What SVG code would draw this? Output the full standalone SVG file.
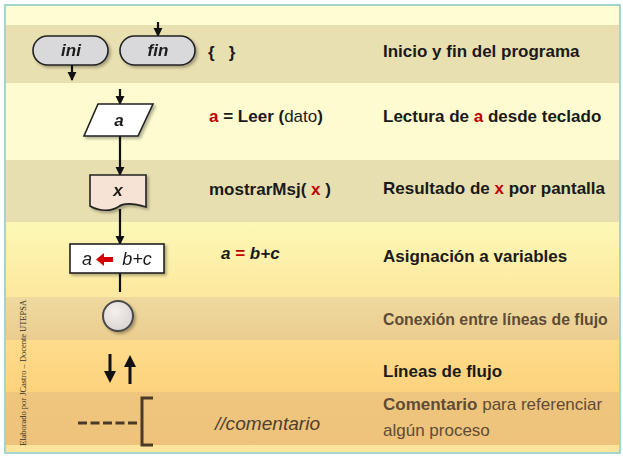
<svg xmlns="http://www.w3.org/2000/svg" width="623" height="457" viewBox="0 0 623 457">
<defs>
<style>
.t{font-family:"Liberation Sans",Arial,sans-serif;font-size:17px;font-weight:bold;fill:#1a1a1a}
.r{fill:#c00000}
.reg{font-weight:normal}
.sym{font-family:"Liberation Sans",Arial,sans-serif;font-size:17px;font-weight:bold;font-style:italic;fill:#1a1a1a;text-anchor:middle}
.ln{stroke:#111;stroke-width:2.2;fill:none}
.shape{stroke:#222;stroke-width:1.6}
.muted{fill:#5e4c36}
.head{fill:#111}
</style>
<marker id="ah" viewBox="0 0 10 10" refX="9" refY="5" markerWidth="4.2" markerHeight="4.2" orient="auto" markerUnits="strokeWidth">
<path d="M0,0 L10,5 L0,10 z" fill="#111"/>
</marker>
<filter id="sh" x="-20%" y="-20%" width="150%" height="160%">
<feDropShadow dx="2" dy="2" stdDeviation="1.5" flood-color="#000" flood-opacity="0.3"/>
</filter>
<linearGradient id="g4" x1="0" y1="0" x2="0" y2="1"><stop offset="0" stop-color="#fdf8b6"/><stop offset="1" stop-color="#fde89e"/></linearGradient>
<linearGradient id="g5" x1="0" y1="0" x2="0" y2="1"><stop offset="0" stop-color="#eed99f"/><stop offset="1" stop-color="#eccd8f"/></linearGradient>
<linearGradient id="g6" x1="0" y1="0" x2="0" y2="1"><stop offset="0" stop-color="#fedc8c"/><stop offset="1" stop-color="#fdd27c"/></linearGradient>
<linearGradient id="g7" x1="0" y1="0" x2="0" y2="1"><stop offset="0" stop-color="#efc67f"/><stop offset="1" stop-color="#eec27b"/></linearGradient>
<radialGradient id="gc" cx="0.4" cy="0.35" r="0.7"><stop offset="0" stop-color="#f4f0ee"/><stop offset="1" stop-color="#d9d2d0"/></radialGradient>
</defs>

<rect x="0" y="0" width="623" height="457" fill="#ffffff"/>
<g id="background">
<rect x="5" y="5" width="615" height="448" fill="#fdfcd3"/>
<rect x="5" y="25" width="615" height="58" fill="#e9e0b1"/>
<rect x="5" y="83" width="615" height="77" fill="#fdfbcf"/>
<rect x="5" y="160" width="615" height="62" fill="#e8dfb1"/>
<rect x="5" y="222" width="615" height="75" fill="url(#g4)"/>
<rect x="5" y="297" width="615" height="43" fill="url(#g5)"/>
<rect x="5" y="340" width="615" height="52" fill="url(#g6)"/>
<rect x="5" y="392" width="615" height="53" fill="url(#g7)"/>
<rect x="5" y="445" width="615" height="8" fill="#fde49c"/>
<rect x="5" y="5" width="615" height="448" fill="none" stroke="#a3d5cc" stroke-width="2"/>
</g>

<g id="connectors">
<line class="ln" x1="158" y1="22" x2="158" y2="36" marker-end="url(#ah)"/>
<line class="ln" x1="72" y1="65" x2="72" y2="80" marker-end="url(#ah)"/>
<line class="ln" x1="120" y1="89" x2="120" y2="104" marker-end="url(#ah)"/>
<line class="ln" x1="120" y1="136" x2="120" y2="175" marker-end="url(#ah)"/>
<line class="ln" x1="120" y1="209" x2="120" y2="244" marker-end="url(#ah)"/>
<line class="ln" x1="120" y1="273" x2="120" y2="292"/>
</g>

<g id="node-ini" filter="url(#sh)">
<rect class="shape" x="33" y="36" width="75" height="29" rx="14.5" fill="#d9d9dc"/>
<text class="sym r" x="71" y="56">ini</text>
</g>
<g id="node-fin" filter="url(#sh)">
<rect class="shape" x="120" y="36" width="75" height="29" rx="14.5" fill="#d9d9dc"/>
<text class="sym r" x="158" y="56">fin</text>
</g>

<g id="node-leer" filter="url(#sh)">
<polygon class="shape" points="98,104 153,104 138,136 84,136" fill="#ffffff"/>
<text class="sym" x="119" y="126">a</text>
</g>

<g id="node-mostrar" filter="url(#sh)">
<path class="shape" d="M90,175 H146 V207 C133,203 123,203 118,207 C112,211 100,212 90,206 Z" fill="#f7e3d6"/>
<text class="sym" x="118" y="196">x</text>
</g>

<g id="node-asign" filter="url(#sh)">
<rect class="shape" x="70" y="244" width="94" height="29" fill="#ffffff"/>
<text class="sym" x="87" y="265" style="font-weight:normal;font-size:18px">a</text>
<path d="M96,259.5 L104,253 L104,257 L113,257 L113,262 L104,262 L104,266 Z" fill="#d40000"/>
<text class="sym" x="137" y="265" style="font-weight:normal;font-size:18px">b+c</text>
</g>

<g id="node-conexion" filter="url(#sh)">
<circle cx="118" cy="316" r="15" fill="url(#gc)" stroke="#4a4a4a" stroke-width="2"/>
</g>

<g id="node-flujo">
<line x1="110" y1="354" x2="110" y2="372" stroke="#111" stroke-width="3"/>
<polygon class="head" points="104,371 116,371 110,383"/>
<line x1="130" y1="384" x2="130" y2="366" stroke="#111" stroke-width="3"/>
<polygon class="head" points="124,367 136,367 130,355"/>
</g>

<g id="node-comentario">
<line x1="78" y1="423" x2="139" y2="423" stroke="#4a3a28" stroke-width="3" stroke-dasharray="9,3.5"/>
<path d="M153,398 H142 V445 H153" fill="none" stroke="#4a3a28" stroke-width="3"/>
</g>

<g id="labels-mid">
<text class="t" x="208" y="58">{&#160;&#160;&#160;}</text>
<text class="t" x="209" y="122"><tspan class="r">a</tspan> = Leer (<tspan class="reg">dato</tspan>)</text>
<text class="t" x="209" y="195">mostrarMsj( <tspan class="r">x</tspan> )</text>
<text class="t" x="221" y="259" font-style="italic"><tspan>a</tspan><tspan class="r" font-style="normal"> = </tspan><tspan>b+c</tspan></text>
<text class="t reg" x="215" y="430" style="font-style:italic;font-size:18px;fill:#4e3f30" textLength="105" lengthAdjust="spacingAndGlyphs">//comentario</text>
</g>

<g id="labels-right">
<text class="t" x="383" y="57">Inicio y fin del programa</text>
<text class="t" x="383" y="122">Lectura de <tspan class="r">a</tspan> desde teclado</text>
<text class="t" x="383" y="194">Resultado de <tspan class="r">x</tspan> por pantalla</text>
<text class="t" x="383" y="262">Asignación a variables</text>
<text class="t muted" x="383" y="325" style="font-size:15.8px">Conexión entre líneas de flujo</text>
<text class="t" x="383" y="377">Líneas de flujo</text>
<text class="t muted" x="383" y="410">Comentario<tspan class="reg"> para referenciar</tspan></text>
<text class="t muted reg" x="383" y="436">algún proceso</text>
</g>

<text x="26" y="446" transform="rotate(-90 26 446)" font-family="'Liberation Serif',serif" font-size="8" fill="#3a3020" textLength="146" lengthAdjust="spacingAndGlyphs">Elaborado por JCastro – Docente UTEPSA</text>
</svg>
